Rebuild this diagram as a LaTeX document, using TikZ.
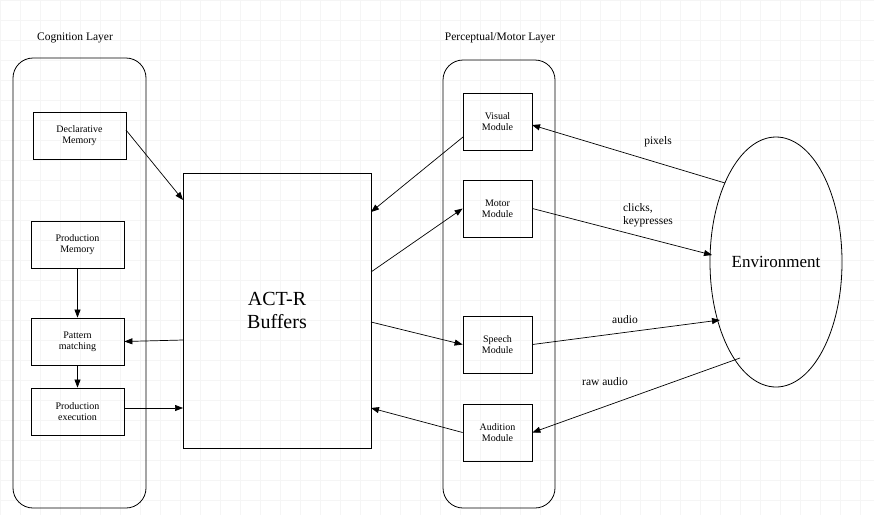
\documentclass[tikz,border=0pt]{standalone}
\usepackage{fontspec}
\setmainfont{Liberation Serif}
\usetikzlibrary{arrows.meta,shapes.geometric}
\begin{document}
\begin{tikzpicture}[x=1pt,y=-1pt,
  box/.style={draw,line width=0.8pt,inner sep=0pt,align=center,font=\fontsize{10}{11}\selectfont},
  lay/.style={draw,line width=0.8pt,rounded corners=20pt},
  arr/.style={-{Triangle[length=8pt,width=6pt]},line width=0.7pt},
  lab/.style={font=\fontsize{11.5}{12.5}\selectfont,align=left}]
\useasboundingbox (0,0) rectangle (874,515);
\draw[black!4] (0,0) grid[step=20pt] (874,515);
\node[lab] at (75,38) {Cognition Layer};
\node[lab] at (500,38) {Perceptual/Motor Layer};
\draw[lay] (13,58) rectangle (146,508);
\draw[lay] (443,60) rectangle (555,508);
\node[box,minimum width=93pt,minimum height=47pt] (dm) at (79.5,135.5) {Declarative\\Memory};
\node[box,minimum width=93pt,minimum height=47pt] (pm) at (77.5,244.5) {Production\\Memory};
\node[box,minimum width=93pt,minimum height=47pt] (pat) at (77.5,341.5) {Pattern\\matching};
\node[box,minimum width=93pt,minimum height=47pt] (pe) at (77.5,411.5) {Production\\execution};
\node[box,minimum width=188pt,minimum height=275pt,font=\fontsize{20}{23}\selectfont] (buf) at (277,310.5) {ACT-R\\Buffers};
\node[box,minimum width=69pt,minimum height=57pt] (vis) at (497.5,121.5) {Visual\\Module};
\node[box,minimum width=69pt,minimum height=57pt] (mot) at (497.5,208.5) {Motor\\Module};
\node[box,minimum width=69pt,minimum height=57pt] (sp) at (497.5,344.5) {Speech\\Module};
\node[box,minimum width=69pt,minimum height=57pt] (aud) at (497.5,432.5) {Audition\\Module};
\node[draw,line width=0.8pt,ellipse,minimum width=132pt,minimum height=250pt,inner sep=0pt,font=\fontsize{17}{19}\selectfont] (env) at (776,262) {Environment};
\coordinate (b1) at (183,200);
\coordinate (b2) at (371,212);
\coordinate (b3) at (371,272);
\coordinate (b4) at (371,322);
\coordinate (b5) at (371,408);
\coordinate (b6) at (183,340);
\coordinate (b7) at (183,408);
\coordinate (dmo) at (126,130);
\coordinate (visi) at (463,137);
\coordinate (peo) at (124,408);
\coordinate (viso) at (532,125);
\draw[arr] (dmo) -- (b1);
\draw[arr] (visi) -- (b2);
\draw[arr] (b3) -- (mot.west);
\draw[arr] (b4) -- (sp.west);
\draw[arr] (aud.west) -- (b5);
\draw[arr] (b6) -- (pat.east);
\draw[arr] (peo) -- (b7);
\draw[arr] (pm) -- (pat);
\draw[arr] (pat) -- (pe);
\coordinate (e1) at (725,183);
\coordinate (e2) at (712,255);
\coordinate (e3) at (720,320);
\coordinate (e4) at (740,358);
\draw[arr] (e1) -- (viso);
\draw[arr] (mot.east) -- (e2);
\draw[arr] (sp.east) -- (e3);
\draw[arr] (e4) -- (aud.east);
\node[lab] at (658,142) {pixels};
\node[lab,inner sep=0pt] at (648,215) {clicks,\\keypresses};
\node[lab] at (625,320) {audio};
\node[lab] at (605,382) {raw audio};
\end{tikzpicture}
\end{document}
